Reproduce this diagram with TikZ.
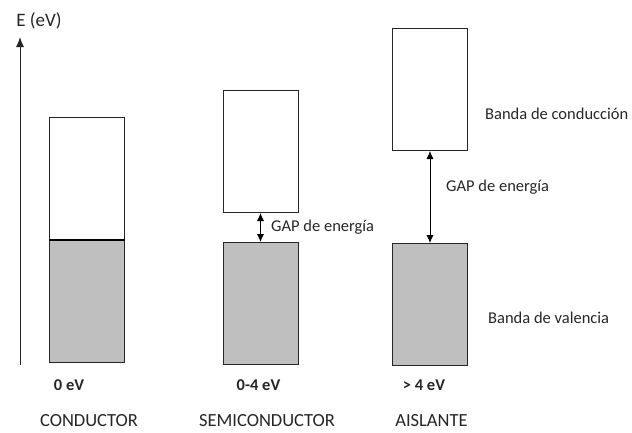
\documentclass[tikz,border=0pt]{standalone}
\usepackage{fontspec}
\setmainfont{Carlito}
\usetikzlibrary{arrows.meta}
\begin{document}
\begin{tikzpicture}[x=1pt,y=-1pt,
  band/.style={draw=black!85, line width=1pt, minimum width=75pt, inner sep=0pt, anchor=north west},
  filled/.style={band, fill=black!25},
  lbl/.style={inner sep=0pt, text=black!85, font=\fontsize{16.5}{19}\selectfont},
  caps/.style={lbl, font=\fontsize{18.5}{21}\selectfont},
  evlbl/.style={lbl, font=\fontsize{16.5}{19}\selectfont\bfseries},
  gaparrow/.style={draw=black, line width=0.8pt, {Latex[length=8pt,width=7pt]}-{Latex[length=8pt,width=7pt]}},
  axisarrow/.style={draw=black!85, line width=1pt, -{Latex[length=10pt,width=8pt]}}
]
\useasboundingbox (0,0) rectangle (632,432);
% axis
\coordinate (ax0) at (20,365);
\coordinate (ax1) at (20,37);
\draw[axisarrow] (ax0) -- (ax1);
\node[lbl, font=\fontsize{19}{22}\selectfont] (elbl) at (39,21) {E (eV)};
% conductor
\node[band, minimum height=123pt] (cup) at (48.5,117) {};
\node[filled, minimum height=122pt] (clow) at (48.5,240) {};
\draw[black, line width=2pt] (clow.north west) -- (clow.north east);
% semiconductor
\node[band, minimum height=122pt] (sup) at (222.5,90) {};
\node[filled, minimum height=122pt] (slow) at (222.5,242) {};
\draw[gaparrow] (sup.south) -- (slow.north);
\node[lbl, anchor=west] (sgap) at (271,227) {GAP de energía};
% aislante
\node[band, minimum height=122pt] (aup) at (392,28) {};
\node[filled, minimum height=122pt] (alow) at (392,243) {};
\draw[gaparrow] (aup.south) -- (alow.north);
\node[lbl, anchor=west] (agap) at (446,187) {GAP de energía};
\node[lbl, anchor=west] (bcond) at (485,114) {Banda de conducción};
\node[lbl, anchor=west] (bval) at (488,318) {Banda de valencia};
% bottom labels
\node[evlbl] (ev0) at (69,385) {0 eV};
\node[evlbl] (ev1) at (258.5,385) {0-4 eV};
\node[evlbl] (ev2) at (424,385) {> 4 eV};
\node[caps] (tc) at (89,421) {CONDUCTOR};
\node[caps] (ts) at (267,421) {SEMICONDUCTOR};
\node[caps] (ta) at (431.5,421) {AISLANTE};
\end{tikzpicture}
\end{document}
